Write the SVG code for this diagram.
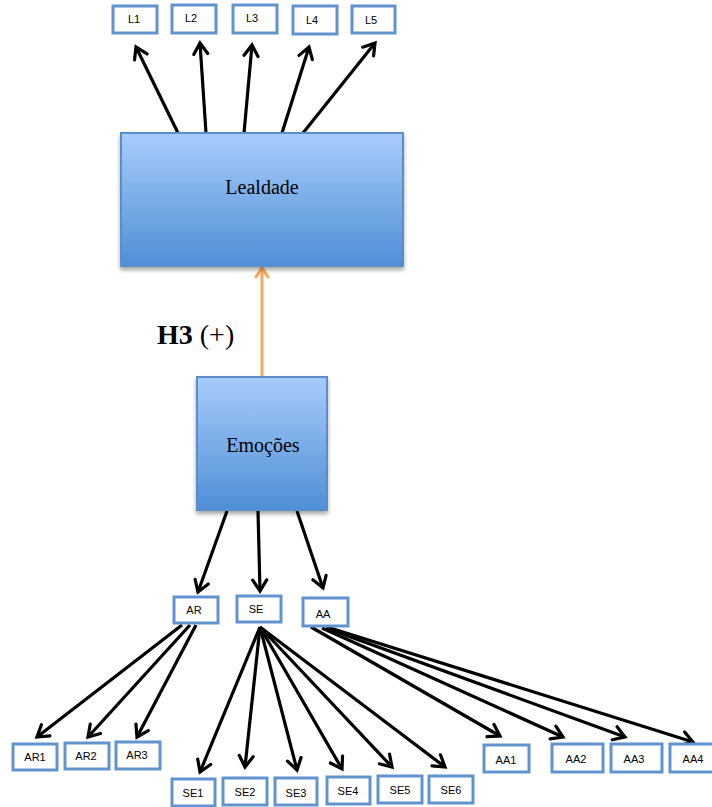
<svg xmlns="http://www.w3.org/2000/svg" width="712" height="807" viewBox="0 0 712 807">
<defs>
<linearGradient id="g" x1="0" y1="0" x2="0" y2="1">
<stop offset="0" stop-color="#a8ccfb"/>
<stop offset="1" stop-color="#4f8fd6"/>
</linearGradient>
<filter id="sh" x="-10%" y="-10%" width="125%" height="125%">
<feDropShadow dx="0" dy="3" stdDeviation="2" flood-color="#000" flood-opacity="0.35"/>
</filter>
<marker id="ah" markerUnits="userSpaceOnUse" markerWidth="20" markerHeight="20" refX="0" refY="0" viewBox="-12 -10 14 20" orient="auto">
<path d="M-11,-7 L0,0 L-11,7" fill="none" stroke="#000" stroke-width="3.2" stroke-linecap="round" stroke-linejoin="miter"/>
</marker>
<marker id="ahO" markerUnits="userSpaceOnUse" markerWidth="20" markerHeight="20" refX="0" refY="0" viewBox="-12 -10 14 20" orient="auto">
<path d="M-9,-6 L0,0 L-9,6" fill="none" stroke="#f9a75b" stroke-width="3" stroke-linecap="round"/>
</marker>
</defs>
<style>
.big{fill:url(#g);stroke:#5a8ec8;stroke-width:2;filter:url(#sh)}
.sm{fill:#fff;stroke:#6194cf;stroke-width:3}
.st{font-family:"Liberation Sans",Arial,sans-serif;font-size:11px;fill:#000;text-anchor:middle}
.bt{font-family:"Liberation Serif","DejaVu Serif",serif;font-size:20px;fill:#000;text-anchor:middle}
.c{stroke:#000;stroke-width:3.2;fill:none;marker-end:url(#ah)}
</style>
<g id="connectors">
<line class="c" x1="178" y1="133" x2="136" y2="47"/>
<line class="c" x1="206" y1="133" x2="200" y2="43"/>
<line class="c" x1="244" y1="133" x2="252" y2="45"/>
<line class="c" x1="282" y1="133" x2="309" y2="47"/>
<line class="c" x1="303" y1="133" x2="375" y2="43"/>
<line x1="262" y1="378" x2="262" y2="268" stroke="#f9a75b" stroke-width="3" marker-end="url(#ahO)"/>
<line class="c" x1="227" y1="511" x2="198" y2="592"/>
<line class="c" x1="258" y1="511" x2="260" y2="591"/>
<line class="c" x1="297" y1="511" x2="323" y2="588"/>
<line class="c" x1="182" y1="625" x2="37" y2="737"/>
<line class="c" x1="190" y1="625" x2="88" y2="737"/>
<line class="c" x1="196" y1="625" x2="137" y2="737"/>
<line class="c" x1="260" y1="627" x2="200" y2="772"/>
<line class="c" x1="260" y1="627" x2="245" y2="767"/>
<line class="c" x1="260" y1="627" x2="297" y2="770"/>
<line class="c" x1="260" y1="627" x2="342" y2="769"/>
<line class="c" x1="260" y1="627" x2="392" y2="767"/>
<line class="c" x1="260" y1="627" x2="445" y2="767"/>
<line class="c" x1="311" y1="627" x2="500" y2="736"/>
<line class="c" x1="322" y1="628" x2="563" y2="737"/>
<line class="c" x1="326" y1="628" x2="625" y2="737"/>
<line class="c" x1="327" y1="627" x2="693" y2="742"/>
</g>
<g id="L1"><rect class="sm" x="113" y="6" width="44" height="27"/><text class="st" x="134" y="23">L1</text></g>
<g id="L2"><rect class="sm" x="172" y="5" width="44" height="28"/><text class="st" x="191" y="22">L2</text></g>
<g id="L3"><rect class="sm" x="233" y="5" width="44" height="28"/><text class="st" x="252" y="22">L3</text></g>
<g id="L4"><rect class="sm" x="293" y="6" width="44" height="28"/><text class="st" x="312" y="24">L4</text></g>
<g id="L5"><rect class="sm" x="352" y="6" width="43" height="27"/><text class="st" x="371" y="24">L5</text></g>
<g id="Lealdade"><rect class="big" x="121" y="133" width="282" height="133"/><text class="bt" x="262" y="194">Lealdade</text></g>
<g id="H3"><text x="157" y="344" font-family="'Liberation Serif','DejaVu Serif',serif" font-size="28" fill="#000"><tspan font-weight="bold">H3</tspan> (+)</text></g>
<g id="Emocoes"><rect class="big" x="197" y="377" width="130" height="133"/><text class="bt" x="263" y="452">Emoções</text></g>
<g id="AR"><rect class="sm" x="174" y="597" width="44" height="26"/><text class="st" x="194" y="614">AR</text></g>
<g id="SE"><rect class="sm" x="237" y="596" width="44" height="26"/><text class="st" x="256" y="613">SE</text></g>
<g id="AA"><rect class="sm" x="303" y="598" width="45" height="28"/><text class="st" x="323" y="618">AA</text></g>
<g id="AR1"><rect class="sm" x="13" y="744" width="44" height="26"/><text class="st" x="35" y="761">AR1</text></g>
<g id="AR2"><rect class="sm" x="65" y="743" width="44" height="26"/><text class="st" x="86" y="760">AR2</text></g>
<g id="AR3"><rect class="sm" x="116" y="742" width="44" height="27"/><text class="st" x="137" y="759">AR3</text></g>
<g id="SE1"><rect class="sm" x="172" y="779" width="43" height="27"/><text class="st" x="193" y="797">SE1</text></g>
<g id="SE2"><rect class="sm" x="223" y="778" width="44" height="27"/><text class="st" x="245" y="796">SE2</text></g>
<g id="SE3"><rect class="sm" x="275" y="778" width="42" height="27"/><text class="st" x="296" y="797">SE3</text></g>
<g id="SE4"><rect class="sm" x="327" y="777" width="43" height="27"/><text class="st" x="348" y="795">SE4</text></g>
<g id="SE5"><rect class="sm" x="378" y="776" width="44" height="27"/><text class="st" x="400" y="794">SE5</text></g>
<g id="SE6"><rect class="sm" x="429" y="776" width="44" height="27"/><text class="st" x="451" y="794">SE6</text></g>
<g id="AA1"><rect class="sm" x="484" y="745" width="45" height="27"/><text class="st" x="506" y="764">AA1</text></g>
<g id="AA2"><rect class="sm" x="552" y="744" width="51" height="28"/><text class="st" x="576" y="763">AA2</text></g>
<g id="AA3"><rect class="sm" x="611" y="744" width="51" height="28"/><text class="st" x="634" y="763">AA3</text></g>
<g id="AA4"><rect class="sm" x="670" y="744" width="46" height="28"/><text class="st" x="693" y="763">AA4</text></g>
</svg>
